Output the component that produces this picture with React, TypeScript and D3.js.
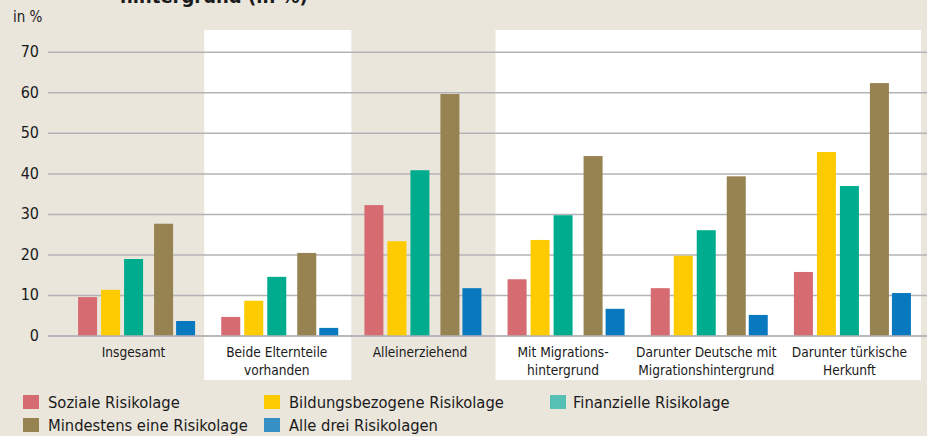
/** App.tsx */
import * as d3 from "d3";
import React, { useEffect, useRef } from "react";

const categories = [
    ["Insgesamt"],
    ["Beide Elternteile", "vorhanden"],
    ["Alleinerziehend"],
    ["Mit Migrations-", "hintergrund"],
    ["Darunter Deutsche mit", "Migrationshintergrund"],
    ["Darunter türkische", "Herkunft"],
];

const seriesNames = [
    "Soziale Risikolage",
    "Bildungsbezogene Risikolage",
    "Finanzielle Risikolage",
    "Mindestens eine Risikolage",
    "Alle drei Risikolagen",
];

const soziale = [9.6, 4.7, 32.3, 14.0, 11.8, 15.8];
const bildung = [11.4, 8.7, 23.4, 23.7, 19.8, 45.4];
const finanziell = [19.0, 14.6, 40.9, 29.8, 26.1, 37.0];
const mindestens = [27.7, 20.5, 59.7, 44.4, 39.4, 62.4];
const alleDrei = [3.7, 2.0, 11.8, 6.7, 5.2, 10.6];

const yTicks = [0, 10, 20, 30, 40, 50, 60, 70];

const barColors = ["#d66b72", "#fecb00", "#00ac8e", "#978251", "#0878bf"];
const legendColors = ["#d66b72", "#fecb00", "#55c1b4", "#978251", "#3590c6"];

const font = "'DejaVu Sans Condensed', sans-serif";

const App = () => {
    const svgRef = useRef(null);

    const width = 927;
    const height = 436;

    useEffect(() => {
        document.body.style.margin = "0";
        const svg = d3.select(svgRef.current);
        svg.selectAll("*").remove();

        const allSeries = [soziale, bildung, finanziell, mindestens, alleDrei];

        const yScale = d3.scaleLinear().domain([0, 70]).range([336, 52.3]);
        const xScale = d3.scaleBand()
            .domain(categories.map((d, i) => String(i)))
            .range([62, 921])
            .padding(0);

        // offsets of each bar from band centre
        const barOffset = d3.scaleOrdinal<number, number>()
            .domain([0, 1, 2, 3, 4])
            .range([-55.5, -32.5, -9.5, 20.5, 42.5]);
        const barWidth = 19;

        svg.append("rect")
            .attr("width", width).attr("height", height)
            .attr("fill", "#eae6dc");

        // white panels behind groups 2 and 4-6
        const panels = [[1, 1], [3, 5]];
        panels.forEach(([a, b]) => {
            const x0 = xScale(String(a)) - 1;
            const x1 = xScale(String(b)) + xScale.bandwidth() + 3;
            svg.append("rect")
                .attr("x", a === 3 ? x0 + 5 : x0)
                .attr("y", 30)
                .attr("width", a === 3 ? x1 - x0 - 5 - 3 : x1 - x0)
                .attr("height", 350)
                .attr("fill", "#ffffff");
        });

        // title (cut off at the top, as in the source)
        svg.append("text")
            .attr("x", 120).attr("y", 3)
            .text("hintergrund (in %)")
            .style("font", `bold 20px ${font}`)
            .attr("fill", "#1a1a1a");

        svg.append("text")
            .attr("x", 13).attr("y", 22)
            .text("in %")
            .style("font", `15px ${font}`)
            .attr("fill", "#1a1a1a");

        const grid = svg.append("g");
        grid.selectAll("line")
            .data(yTicks)
            .enter()
            .append("line")
            .attr("x1", 48).attr("x2", width)
            .attr("y1", (d) => yScale(d)).attr("y2", (d) => yScale(d))
            .attr("stroke", "#b3b3b6")
            .attr("stroke-width", 1.5);
        grid.selectAll("text")
            .data(yTicks)
            .enter()
            .append("text")
            .attr("x", 39)
            .attr("y", (d) => yScale(d) + 5)
            .attr("text-anchor", "end")
            .text((d) => d)
            .style("font", `16px ${font}`)
            .attr("fill", "#1a1a1a");

        allSeries.forEach((values, s) => {
            svg.append("g").selectAll("rect")
                .data(values)
                .enter()
                .append("rect")
                .attr("x", (d, i) => xScale(String(i)) + xScale.bandwidth() / 2 + barOffset(s))
                .attr("y", (d) => yScale(d))
                .attr("width", barWidth)
                .attr("height", (d) => yScale(0) - yScale(d))
                .attr("fill", barColors[s]);
        });

        // zero line on top of bars
        svg.append("line")
            .attr("x1", 48).attr("x2", width)
            .attr("y1", yScale(0)).attr("y2", yScale(0))
            .attr("stroke", "#b3b3b6")
            .attr("stroke-width", 1.5);

        const labels = svg.append("g");
        categories.forEach((lines, i) => {
            lines.forEach((line, j) => {
                labels.append("text")
                    .attr("x", xScale(String(i)) + xScale.bandwidth() / 2)
                    .attr("y", 357 + j * 17.5)
                    .attr("text-anchor", "middle")
                    .text(line)
                    .style("font", `13.6px ${font}`)
                    .attr("fill", "#1a1a1a");
            });
        });

        const legendPos = [[23, 408], [264, 408], [550, 408], [23, 431], [264, 431]];
        const legend = svg.append("g");
        seriesNames.forEach((name, i) => {
            const [lx, ly] = legendPos[i];
            legend.append("rect")
                .attr("x", lx).attr("y", ly - 13)
                .attr("width", 16).attr("height", 14)
                .attr("fill", legendColors[i]);
            legend.append("text")
                .attr("x", lx + (i === 2 ? 23 : 25)).attr("y", ly)
                .text(name)
                .style("font", `16.4px ${font}`)
                .attr("fill", "#1a1a1a");
        });
    }, []);

    return (
        <svg ref={svgRef} width={width} height={height}
            style={{ display: "block", position: "absolute", left: 0, top: 0 }} />
    );
};

export default App;
